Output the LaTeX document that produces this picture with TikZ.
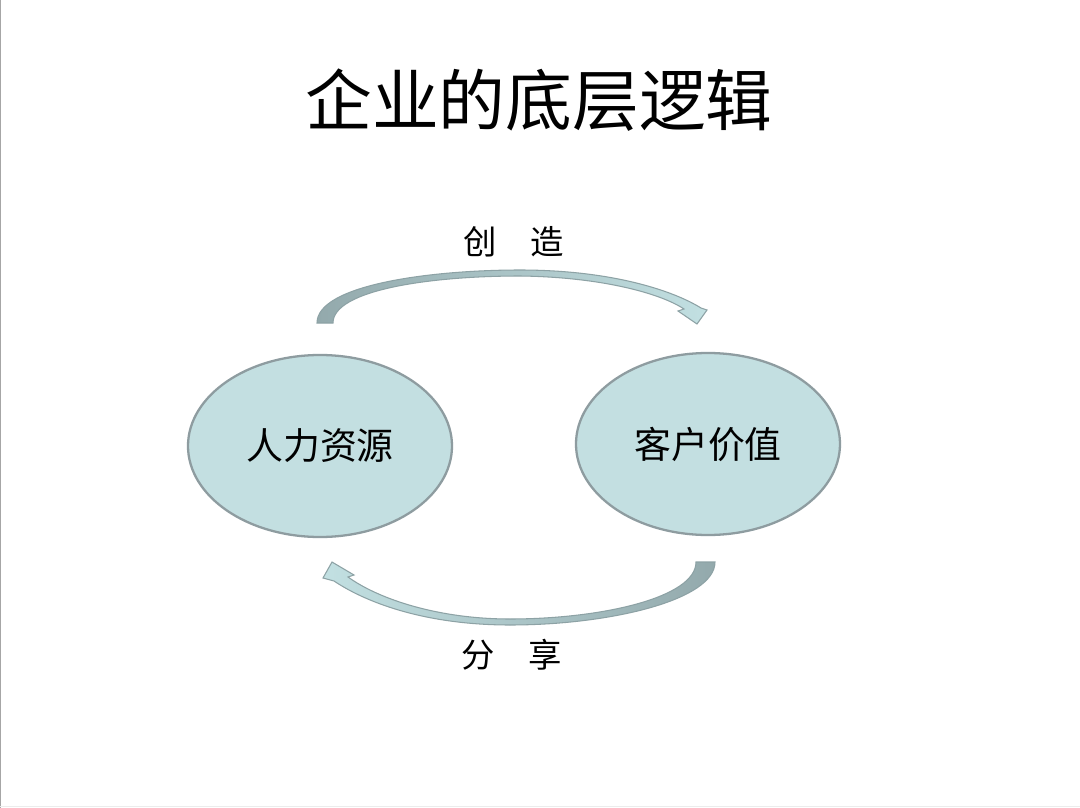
\documentclass[tikz,border=0pt]{standalone}
\usepackage{fontspec}
\newfontfamily\cjk{Noto Sans CJK SC}
\definecolor{cellfill}{HTML}{C3DFE1}
\definecolor{cellline}{HTML}{8E9CA0}
\definecolor{arrowdark}{HTML}{93A9AC}
\definecolor{arrowmid}{HTML}{A3BCBF}
\definecolor{arrowlight}{HTML}{C2E0E2}
\definecolor{arrowline}{HTML}{8DA2A5}
\tikzset{
  cell/.style={ellipse, fill=cellfill, draw=cellline, line width=1.3pt,
    minimum width=264*0.02cm, minimum height=182*0.02cm, font=\cjk\fontsize{21}{24}\selectfont},
  loopword/.style={font=\cjk\fontsize{19}{22}\selectfont},
}
\usetikzlibrary{shapes.geometric}
\begin{document}
\begin{tikzpicture}[x=0.02cm, y=-0.02cm]
        \useasboundingbox (0,0) rectangle (1080,808);
        \fill[white] (0,0) rectangle (1080,808);
        \draw[gray!70, line width=0.6pt] (0.5,0) -- (0.5,808);
        \draw[gray!15, line width=0.6pt] (0,806.5) -- (1080,806.5);

        \node[font=\cjk\fontsize{38}{44}\selectfont] (title) at (539, 100) {企业的底层逻辑};

        \node[cell] (hr) at (320, 446) {人力资源};
        \node[cell] (cv) at (708, 444) {客户价值};

        % upper arrow
        \draw[arrowline, line width=0.6pt, left color=arrowdark, middle color=arrowmid, right color=arrowlight]
          (317,323) .. controls (317,285) and (430,270) .. (520,270)
          .. controls (610,270) and (672,290) .. (701,308)
          -- (707,310) -- (697,324) -- (678,311) -- (684,309)
          .. controls (660,293) and (600,277) .. (520,276)
          .. controls (430,276) and (333,290) .. (333,323) -- cycle;

        % lower arrow
        \draw[arrowline, line width=0.6pt, left color=arrowlight, middle color=arrowmid, right color=arrowdark]
          (715,562) .. controls (715,600) and (610,625) .. (510,625)
          .. controls (430,625) and (370,605) .. (334,581)
          -- (323,578) -- (332,562) -- (354,575) -- (348,577)
          .. controls (380,600) and (440,619) .. (510,619)
          .. controls (600,619) and (696,598) .. (696,562) -- cycle;

        \node[loopword] (make) at (514, 242) {创\quad 造};
        \node[loopword] (share) at (512, 655) {分\quad 享};
\end{tikzpicture}
\end{document}
